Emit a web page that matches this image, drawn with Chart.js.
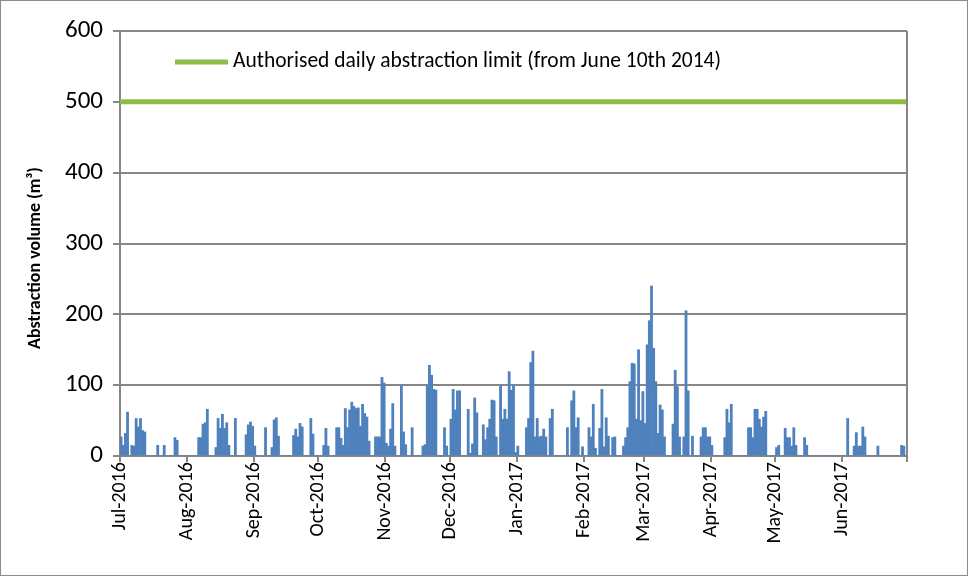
<!DOCTYPE html>
<html>
<head>
<meta charset="utf-8">
<script src="https://cdn.jsdelivr.net/npm/chart.js@4.4.1/dist/chart.umd.min.js"></script>
<style>
  body { margin: 0; background: #fff; }
  #chart { display: block; }
</style>
</head>
<body>
<canvas id="chart" width="968" height="576"></canvas>
<script>
// daily abstraction volume (m3), one array per month, Jul 2016 .. Jun 2017
var jul16 = [27,15,32,62,0, 15,14,53,41,53, 36,34,0,0,0, 0,0,15,0,0, 15,0,0,0,0, 26,22,0,0,0, 0];
var aug16 = [0,0,0,0,0, 26,26,45,47,66, 0,0,0,12,53, 39,59,39,47,15, 0,0,53,0,0, 0,0,30,44,48, 42];
var sep16 = [14,0,0,0,0, 40,0,0,12,51, 54,28,0,0,0, 0,0,0,29,38, 27,46,41,0,0, 0,53,31,0,0];
var oct16 = [0,0,15,39,14, 0,0,0,40,40, 25,15,67,40,65, 76,70,67,68,42, 73,60,55,21,0, 0,27,27,27,111, 103];
var nov16 = [18,14,38,74,14, 0,0,99,34,16, 0,0,40,0,0, 0,0,14,16,99, 128,114,94,93,0, 0,0,40,14,0];
var dec16 = [52,94,65,92,92, 0,0,0,66,4, 17,82,61,0,0, 44,23,40,52,79, 78,27,0,99,52, 66,52,119,93,100, 5];
var jan17 = [14,0,0,0,40, 53,132,148,27,53, 27,28,38,27,0, 53,66,0,0,0, 0,0,0,40,0, 78,92,40,54,0, 13];
var feb17 = [0,0,40,27,73, 11,0,39,94,13, 54,28,0,26,27, 0,0,0,14,26, 40,105,131,130,52, 150,50,91];
var mar17 = [46,157,191,240,152, 105,32,72,65,27, 0,0,0,45,121, 98,27,0,27,205, 92,0,28,0,0, 0,27,40,40,27, 27];
var apr17 = [15,0,0,0,0, 0,26,66,47,73, 0,0,0,0,0, 0,0,40,40,26, 66,66,52,41,55, 63,0,0,0,0];
var may17 = [12,15,0,0,39, 26,26,14,40,15, 0,0,0,26,15, 0,0,0,0,0, 0,0,0,0,0, 0,0,0,0,0, 0];
var jun17 = [0,0,53,0,0, 14,33,14,14,41, 27,0,0,0,0, 0,14,0,0,0, 0,0,0,0,0, 0,0,15,14,0];

var monthLabels = ['Jul-2016','Aug-2016','Sep-2016','Oct-2016','Nov-2016','Dec-2016',
                   'Jan-2017','Feb-2017','Mar-2017','Apr-2017','May-2017','Jun-2017'];
var limitValue = 500;
var limitLabel = 'Authorised daily abstraction limit (from June 10th 2014)';
var yTitle = 'Abstraction volume (m\u00b3)';

var months = [jul16, aug16, sep16, oct16, nov16, dec16, jan17, feb17, mar17, apr17, may17, jun17];

// day index where each month starts
var monthStarts = [];
var daily = [];
months.forEach(function (m) {
    monthStarts.push(daily.length);
    daily = daily.concat(m);
});
var totalDays = daily.length;
monthStarts.push(totalDays);

var FONT = 'Carlito, Lato, sans-serif';
var GREY = '#868686';

var framePlugin = {
    id: 'frame',
    beforeDraw: function (chart) {
        var c = chart.ctx;
        c.save();
        c.fillStyle = '#fff';
        c.fillRect(0, 0, chart.width, chart.height);
        c.strokeStyle = '#8c8c8c';
        c.lineWidth = 1;
        c.strokeRect(0.5, 0.5, chart.width - 1, chart.height - 1);
        c.restore();
    },
    afterDraw: function (chart) {
        var c = chart.ctx;
        var a = chart.chartArea;
        c.save();
        // right border of plot
        c.strokeStyle = GREY;
        c.lineWidth = 2;
        c.beginPath();
        c.moveTo(a.right, a.top);
        c.lineTo(a.right, a.bottom);
        c.stroke();
        // legend
        c.strokeStyle = chart.data.datasets[1].borderColor;
        c.lineWidth = 5;
        c.beginPath();
        c.moveTo(175, 62);
        c.lineTo(228, 62);
        c.stroke();
        c.fillStyle = '#000';
        c.font = '21.5px ' + FONT;
        c.textBaseline = 'middle';
        c.fillText(limitLabel, 233, 62);
        // y axis title
        c.translate(35, 258);
        c.rotate(-Math.PI / 2);
        c.font = 'bold 18px ' + FONT;
        c.textAlign = 'center';
        c.fillText(yTitle, 0, 0);
        c.restore();
    }
};

var ctx = document.getElementById('chart').getContext('2d');
var chart = new Chart(ctx, {
    type: 'bar',
    data: {
        datasets: [{
            type: 'bar',
            label: 'Daily abstraction',
            data: daily.map(function (v, i) { return { x: i + 0.5, y: v }; }),
            backgroundColor: '#4f81bd',
            borderWidth: 0,
            barPercentage: 1,
            categoryPercentage: 1
        }, {
            type: 'line',
            label: limitLabel,
            data: [{ x: 0, y: limitValue }, { x: totalDays, y: limitValue }],
            borderColor: '#8fbc45',
            borderWidth: 5,
            pointRadius: 0,
            fill: false
        }]
    },
    options: {
        responsive: false,
        animation: false,
        devicePixelRatio: 1,
        layout: { padding: { left: 0, top: 31, right: 61, bottom: 0 } },
        plugins: {
            legend: { display: false },
            tooltip: { enabled: false }
        },
        scales: {
            x: {
                type: 'linear',
                offset: false,
                min: 0,
                max: totalDays,
                afterBuildTicks: function (axis) {
                    axis.ticks = monthStarts.map(function (v) { return { value: v }; });
                },
                afterFit: function (axis) { axis.height = 120; },
                grid: {
                    offset: false,
                    drawOnChartArea: false,
                    drawTicks: true,
                    tickLength: 6,
                    color: GREY,
                    lineWidth: 2
                },
                border: { color: GREY, width: 2 },
                ticks: {
                    autoSkip: false,
                    minRotation: 90,
                    maxRotation: 90,
                    padding: 0,
                    color: '#000',
                    font: { family: FONT, size: 20 },
                    callback: function (value) {
                        var k = monthStarts.indexOf(value);
                        return k >= 0 && k < monthLabels.length ? monthLabels[k] : '';
                    }
                }
            },
            y: {
                min: 0,
                max: 600,
                afterFit: function (axis) { axis.width = 120; },
                grid: {
                    color: GREY,
                    lineWidth: 2,
                    tickLength: 7
                },
                border: { color: GREY, width: 2 },
                ticks: {
                    stepSize: 100,
                    padding: 10,
                    color: '#000',
                    font: { family: FONT, size: 25 }
                }
            }
        }
    },
    plugins: [framePlugin]
});
</script>
</body>
</html>
